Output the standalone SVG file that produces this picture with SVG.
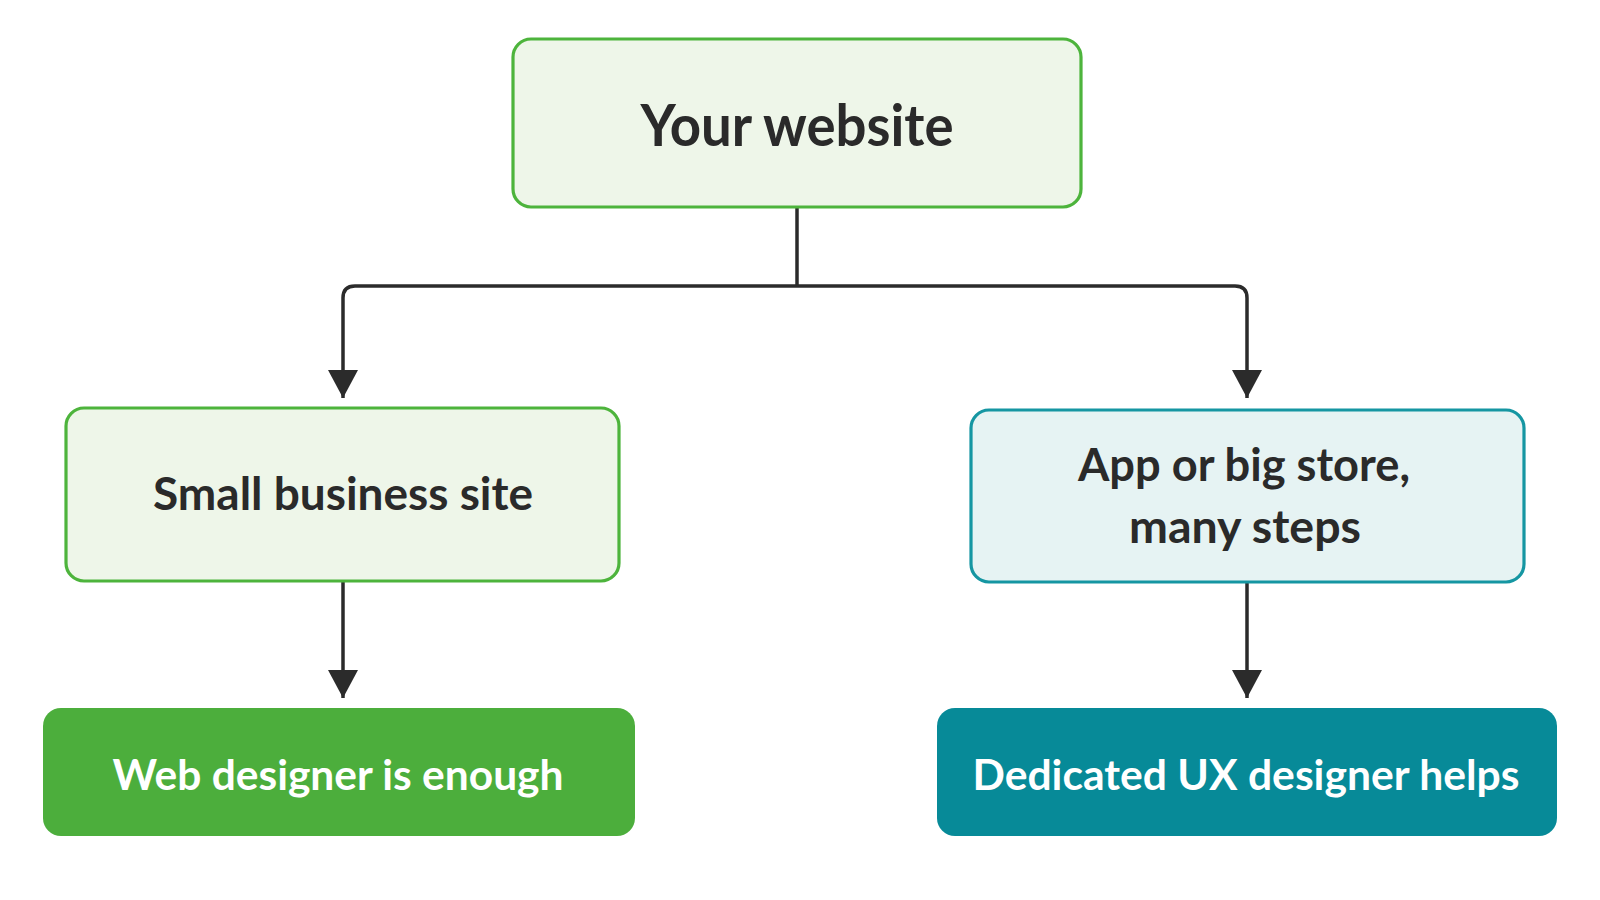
<svg xmlns="http://www.w3.org/2000/svg" width="1600" height="900" viewBox="0 0 1600 900">
<defs>
<style>
.lbl{font-family:Lato,"Open Sans","Liberation Sans",sans-serif;font-weight:700;text-anchor:middle}
.dark{fill:#2a2a2a}
.light{fill:#ffffff}
.conn{fill:none;stroke:#2b2b2b;stroke-width:3.5}
</style>
<marker id="arr" viewBox="0 0 28 30" refX="28" refY="15" markerWidth="28" markerHeight="30" markerUnits="userSpaceOnUse" orient="auto">
<path d="M0 0 L28 15 L0 30 Z" fill="#2b2b2b"/>
</marker>
</defs>
<rect width="1600" height="900" fill="#ffffff"/>
<g id="connectors">
<path class="conn" d="M797 207 V286"/>
<path class="conn" d="M797 286 H355 Q343 286 343 298 V398" marker-end="url(#arr)"/>
<path class="conn" d="M797 286 H1235 Q1247 286 1247 298 V398" marker-end="url(#arr)"/>
<path class="conn" d="M343 581 V698" marker-end="url(#arr)"/>
<path class="conn" d="M1247 582 V698" marker-end="url(#arr)"/>
</g>
<g id="node-your-website">
<rect x="513" y="39" width="568" height="168" rx="18" fill="#eef6e9" stroke="#4db43c" stroke-width="3.2"/>
<text class="lbl dark" x="797" y="146" font-size="57" textLength="313" lengthAdjust="spacingAndGlyphs">Your website</text>
</g>
<g id="node-small-business">
<rect x="66" y="408" width="553" height="173" rx="18" fill="#eef6e9" stroke="#4db43c" stroke-width="3.2"/>
<text class="lbl dark" x="343" y="510" font-size="45" textLength="380" lengthAdjust="spacingAndGlyphs">Small business site</text>
</g>
<g id="node-app-store">
<rect x="971" y="410" width="553" height="172" rx="18" fill="#e6f3f3" stroke="#1596a2" stroke-width="3.2"/>
<text class="lbl dark" x="1244" y="481" font-size="45" textLength="332" lengthAdjust="spacingAndGlyphs">App or big store,</text>
<text class="lbl dark" x="1245" y="543" font-size="45" textLength="232" lengthAdjust="spacingAndGlyphs">many steps</text>
</g>
<g id="node-web-designer">
<rect x="43" y="708" width="592" height="128" rx="18" fill="#4cae3c"/>
<text class="lbl light" x="338" y="790" font-size="42" textLength="451" lengthAdjust="spacingAndGlyphs">Web designer is enough</text>
</g>
<g id="node-ux-designer">
<rect x="937" y="708" width="620" height="128" rx="18" fill="#078a98"/>
<text class="lbl light" x="1246" y="790" font-size="42" textLength="547" lengthAdjust="spacingAndGlyphs">Dedicated UX designer helps</text>
</g>
</svg>
